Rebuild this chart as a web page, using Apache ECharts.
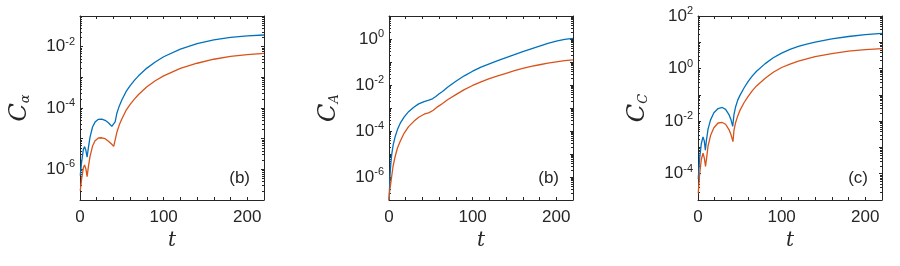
<!DOCTYPE html>
<html>
<head>
<meta charset="utf-8">
<script src="https://cdn.jsdelivr.net/npm/echarts@6/dist/echarts.min.js"></script>
<style>html,body{margin:0;padding:0;background:#fff}#c{width:900px;height:266px}</style>
</head>
<body>
<div id="c"></div>
<script>
// ---- Panel 1: C_alpha ----
const tAlphaBlue = [0.3,2,4,5.5,7,8.5,10,12,15,18,22,26,30,34,38,40.3,42,44,47,50,55,60,65,70,80,90,100,120,140,160,180,200,220];
const cAlphaBlue = [6.3e-7,1.78e-6,4.47e-6,5.5e-6,4.17e-6,2.51e-6,5.0e-6,1.12e-5,2.4e-5,3.47e-5,4.27e-5,4.37e-5,3.98e-5,3.31e-5,2.51e-5,2.19e-5,3.55e-5,6.6e-5,1.17e-4,1.82e-4,3.39e-4,5.37e-4,7.94e-4,1.12e-3,2.0e-3,3.16e-3,4.68e-3,8.3e-3,1.26e-2,1.66e-2,2.0e-2,2.24e-2,2.4e-2];
const tAlphaOrange = [0.3,2,4,5.5,7,8.5,10,12,15,18,22,26,30,34,38,40.3,42,44,47,50,55,60,65,70,80,90,100,120,140,160,180,200,220];
const cAlphaOrange = [2.0e-7,5.0e-7,1.12e-6,1.38e-6,1.05e-6,5.75e-7,1.2e-6,2.63e-6,5.75e-6,8.5e-6,1.05e-5,1.07e-5,1.0e-5,8.3e-6,6.6e-6,5.6e-6,8.9e-6,1.58e-5,2.82e-5,4.37e-5,8.3e-5,1.32e-4,1.95e-4,2.75e-4,4.9e-4,7.76e-4,1.12e-3,1.95e-3,2.88e-3,3.89e-3,4.79e-3,5.5e-3,6.0e-3];

// ---- Panel 2: C_A ----
const tABlue = [0,0.5,1.2,2,3.2,5,7.3,10,13.3,18,23.4,30,35.5,42,47.6,52,56,60,64,70,80,90,100,110,120,130,140,150,160,170,180,190,200,210,220];
const cABlue = [1.0e-7,2.5e-7,1.05e-6,3.16e-6,9.1e-6,2.51e-5,5.6e-5,1.12e-4,2.14e-4,3.98e-4,6.9e-4,1.1e-3,1.51e-3,1.91e-3,2.19e-3,2.51e-3,3.16e-3,4.17e-3,5.25e-3,7.94e-3,1.45e-2,2.51e-2,3.98e-2,6.0e-2,8.3e-2,0.115,0.155,0.209,0.282,0.372,0.49,0.646,0.813,0.955,1.07];
const tAOrange = [0,0.8,2,3.2,5,7.3,10,13.3,18,23.4,30,35.5,42,48,53,58,64,70,80,90,100,110,120,130,140,150,160,170,180,190,200,210,220];
const cAOrange = [1.0e-7,2.5e-7,5.0e-7,1.05e-6,3.16e-6,7.6e-6,1.78e-5,3.47e-5,7.94e-5,1.55e-4,2.69e-4,3.98e-4,5.37e-4,6.3e-4,7.94e-4,1.12e-3,1.58e-3,2.29e-3,3.8e-3,6.3e-3,9.55e-3,1.38e-2,1.91e-2,2.51e-2,3.24e-2,4.17e-2,5.25e-2,6.46e-2,7.59e-2,8.9e-2,0.102,0.115,0.123];

// ---- Panel 3: C_C ----
const tCBlue = [0.3,2,4,6,7.5,8.8,10,12,15,19,24,29,33,37,39.5,41.5,43,45,47.5,50,55,60,65,70,80,90,100,110,120,130,140,160,180,200,220];
const cCBlue = [6.3e-5,3.98e-4,1.41e-3,2.51e-3,1.78e-3,7.94e-4,1.78e-3,5.0e-3,1.12e-2,2.09e-2,3.02e-2,3.31e-2,2.82e-2,1.78e-2,1.12e-2,6.3e-3,1.78e-2,3.55e-2,6.3e-2,9.33e-2,0.182,0.324,0.525,0.794,1.51,2.57,3.89,5.37,6.92,8.51,10.2,13.5,16.6,19.5,21.9];
const tCOrange = [0.3,2,4,6,7.5,9,10.5,12,15,19,24,29,33,37,39.5,41.8,43,45,47.5,50,55,60,65,70,80,90,100,110,120,130,140,160,180,200,220];
const cCOrange = [1.78e-5,1.0e-4,3.55e-4,6.0e-4,3.98e-4,1.91e-4,4.47e-4,1.12e-3,2.82e-3,5.6e-3,8.5e-3,8.9e-3,7.6e-3,4.79e-3,3.02e-3,1.66e-3,4.47e-3,8.9e-3,1.58e-2,2.51e-2,5.01e-2,8.71e-2,0.145,0.219,0.417,0.724,1.10,1.48,1.91,2.34,2.82,3.72,4.57,5.25,5.75];

// axes settings
const xTicks = { min: 0, max: 220, interval: 20, labels: [0, 100, 200] };
const yRanges = [[1e-7, 1e-1], [1e-7, 1e1], [1e-5, 1e2]];
const yTitles = ['α', 'A', 'C'];
const panelTags = ['(b)', '(b)', '(c)'];

const BLUE = '#0072BD', ORANGE = '#D95319', INK = '#262626';
const FONT = 'Liberation Sans';
const lefts = [80, 389, 698];

const zip = (t, v) => t.map((x, i) => [x, v[i]]);
const panels = [
  [zip(tAlphaBlue, cAlphaBlue), zip(tAlphaOrange, cAlphaOrange)],
  [zip(tABlue, cABlue), zip(tAOrange, cAOrange)],
  [zip(tCBlue, cCBlue), zip(tCOrange, cCOrange)]
];

const grid = [], xAxis = [], yAxis = [], series = [], graphic = [];
lefts.forEach((L, i) => {
  grid.push({ left: L, top: 16, width: 184, height: 184 });
  const axLine = { show: true, onZero: false, lineStyle: { color: INK, width: 1 } };
  const baseX = {
    type: 'value', gridIndex: i, min: xTicks.min, max: xTicks.max, interval: xTicks.interval,
    axisLine: axLine, splitLine: { show: false },
    axisTick: { show: true, inside: true, length: 3, lineStyle: { color: INK } }
  };
  xAxis.push(Object.assign({}, baseX, {
    position: 'bottom',
    axisLabel: {
      margin: 9, color: INK, fontFamily: FONT, fontSize: 17,
      formatter: v => xTicks.labels.indexOf(v) >= 0 ? String(v) : ''
    },
    name: 't', nameLocation: 'middle', nameGap: 27,
    nameTextStyle: { fontFamily: 'DejaVu Serif', fontStyle: 'italic', fontSize: 20, color: INK }
  }));
  xAxis.push(Object.assign({}, baseX, { position: 'top', axisLabel: { show: false } }));
  const baseY = {
    type: 'log', logBase: 10, gridIndex: i, min: yRanges[i][0], max: yRanges[i][1], interval: 1,
    axisLine: axLine, splitLine: { show: false },
    axisTick: { show: true, inside: true, length: 3, lineStyle: { color: INK } },
    minorTick: { show: true, splitNumber: 9, length: 2, lineStyle: { color: INK } }
  };
  yAxis.push(Object.assign({}, baseY, {
    position: 'left',
    axisLabel: {
      margin: 5, color: INK, fontFamily: FONT,
      formatter: v => {
        const e = Math.round(Math.log10(v));
        return (e % 2 === 0) ? '{b|10}{e|' + (e === 0 ? '0' : String(e)) + '}' : '';
      },
      rich: {
        b: { fontSize: 17, fontFamily: FONT, color: INK },
        e: { fontSize: 11, fontFamily: FONT, color: INK, padding: [0, 0, 10, 0] }
      }
    },
    name: '{c|C}{s|' + yTitles[i] + '}', nameLocation: 'middle', nameGap: 48, nameRotate: 90,
    nameTextStyle: {
      rich: {
        c: { fontFamily: 'DejaVu Serif', fontStyle: 'italic', fontSize: 24, color: INK },
        s: { fontFamily: 'DejaVu Serif', fontStyle: 'italic', fontSize: 13, color: INK, padding: [12, 0, 0, 0] }
      }
    }
  }));
  yAxis.push(Object.assign({}, baseY, { position: 'right', axisLabel: { show: false } }));

  const [b, o] = panels[i];
  series.push({ type: 'line', xAxisIndex: 2 * i, yAxisIndex: 2 * i, data: b, showSymbol: false, smooth: false,
    lineStyle: { color: BLUE, width: 1.3 }, itemStyle: { color: BLUE }, animation: false, z: 3 });
  series.push({ type: 'line', xAxisIndex: 2 * i, yAxisIndex: 2 * i, data: o, showSymbol: false, smooth: false,
    lineStyle: { color: ORANGE, width: 1.3 }, itemStyle: { color: ORANGE }, animation: false, z: 3 });

  graphic.push({ type: 'text', x: L + 170, y: 187,
    style: { text: panelTags[i], textAlign: 'right', textVerticalAlign: 'bottom', fontSize: 17, fontFamily: FONT, fill: INK } });
});

const chart = echarts.init(document.getElementById('c'), null, { renderer: 'canvas' });
chart.setOption({ animation: false, grid, xAxis, yAxis, series, graphic });
</script>
</body>
</html>
